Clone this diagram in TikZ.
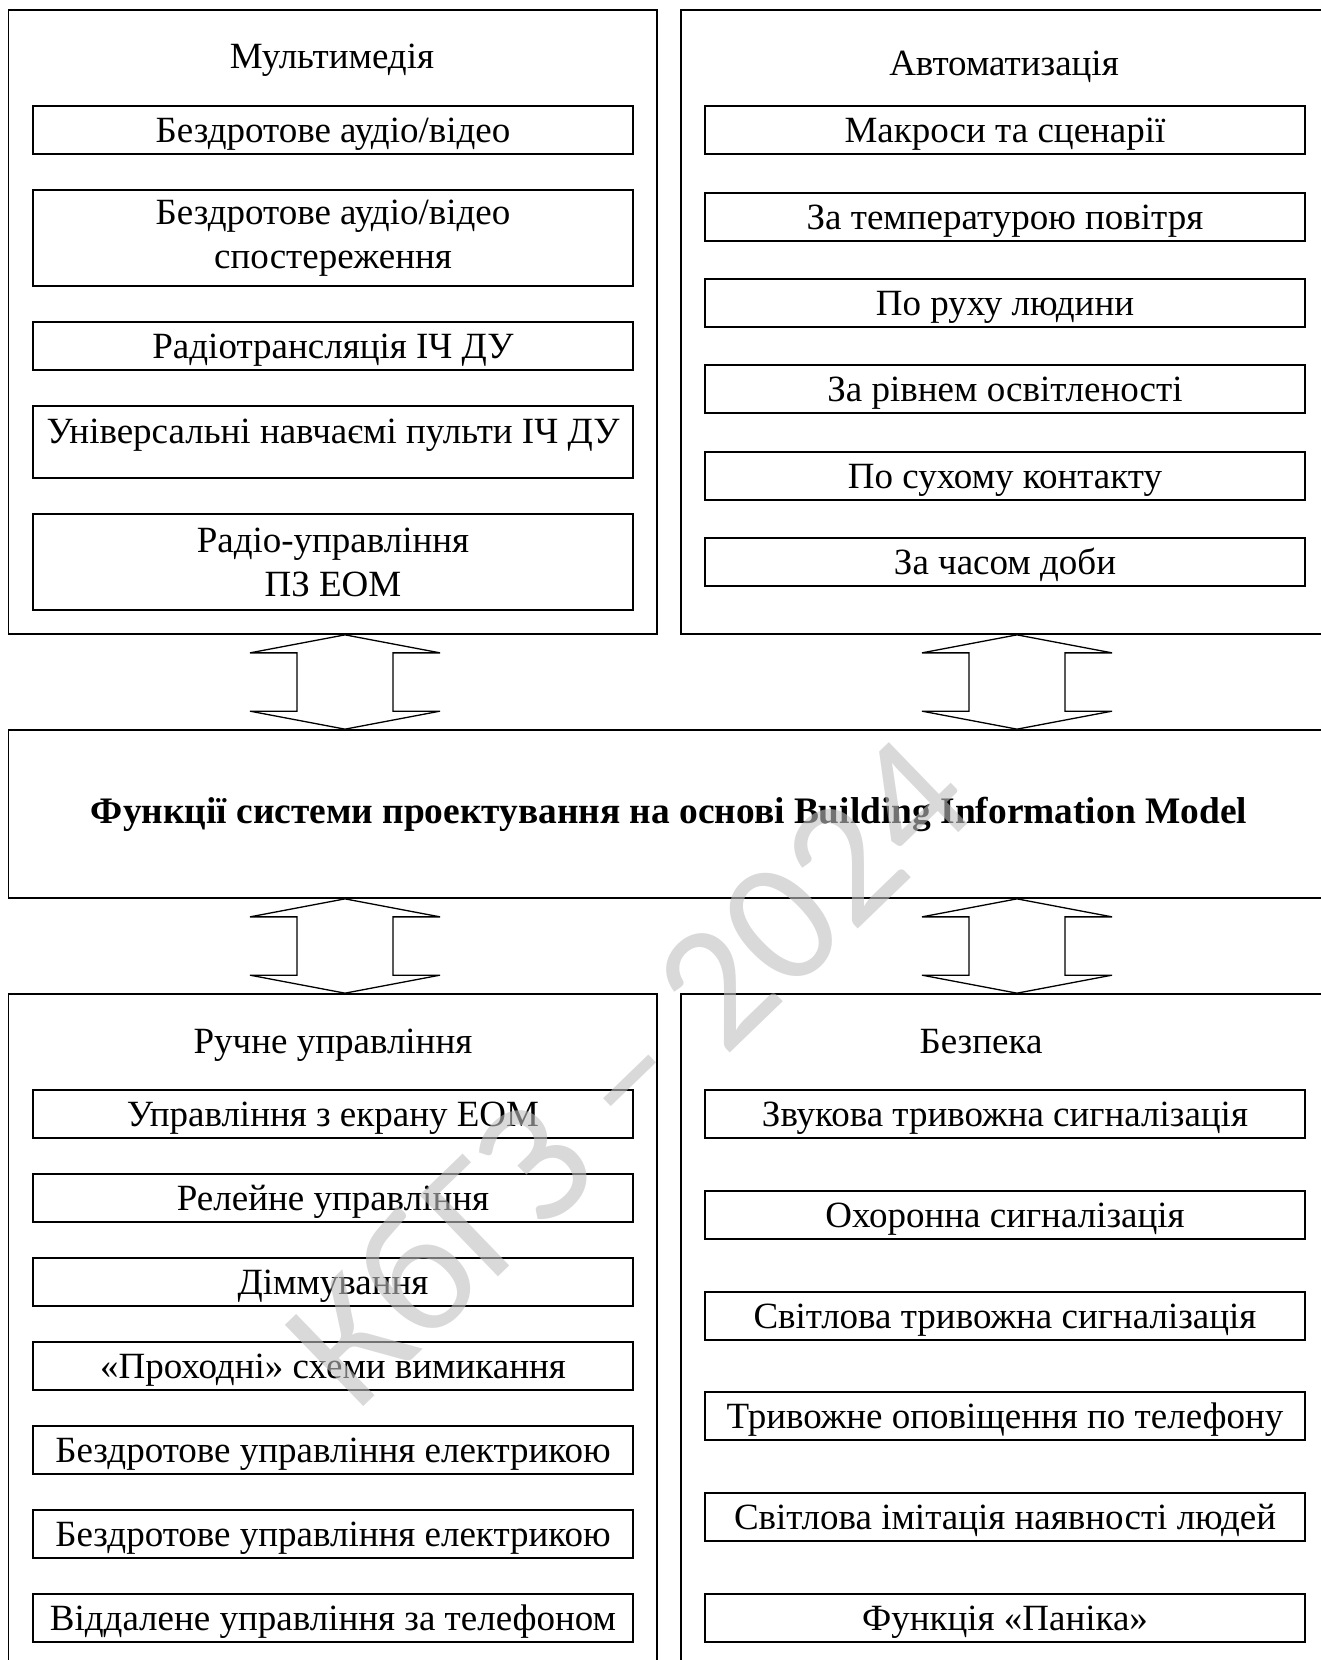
\documentclass[tikz,border=0pt]{standalone}
\usepackage{fontspec}
\setmainfont{Liberation Serif}
\newfontfamily\wmfont{Carlito}
\usetikzlibrary{calc}
\newcommand\dgfont{\fontsize{37}{44}\selectfont}
\begin{document}
\begin{tikzpicture}[x=1pt,y=-1pt,
  outerbox/.style={draw, line width=1.7pt, minimum width=648.5pt, inner sep=0pt},
  itembox/.style={draw, line width=1.8pt, minimum width=600pt, inner sep=0pt,
     text height=36pt, text depth=12pt, font=\dgfont},
  multibox/.style={draw, line width=1.8pt, minimum width=600pt, inner sep=0pt,
     minimum height=96pt, align=center, font=\dgfont},
  title/.style={anchor=base, inner sep=0pt, font=\dgfont},
  blockarrow/.style={draw, line width=1.3pt, fill=white, line join=miter},
  wm/.style={font=\wmfont\fontsize{176}{176}\selectfont, text=black!25, text opacity=0.6, rotate=44, inner sep=0pt}]
\useasboundingbox (0,0) rectangle (1320,1660);

% outer frames
\node[outerbox, minimum height=624pt] (mm) at (332.75,322) {};
\node[outerbox, minimum height=624pt] (au) at (1005.25,322) {};
\node[draw, line width=1.7pt, minimum width=1321pt, minimum height=168pt, inner sep=0pt,
      font=\fontsize{37.4}{44}\selectfont\bfseries] (bim) at (669,814)
      {Функції системи проектування на основі Building Information Model};
\node[outerbox, minimum height=686pt] (ru) at (332.75,1337) {};
\node[outerbox, minimum height=686pt] (bz) at (1005.25,1337) {};

% titles
\node[title] (mmt) at (332,68) {Мультимедія};
\node[title] (aut) at (1004,75) {Автоматизація};
\node[title] (rut) at (333,1053) {Ручне управління};
\node[title] (bzt) at (981,1053) {Безпека};

% Multimedia
\node[itembox] (m1) at (333,130) {Бездротове аудіо/відео};
\node[multibox] (m2) at (333,238) {Бездротове аудіо/відео\\спостереження};
\node[itembox] (m3) at (333,346) {Радіотрансляція ІЧ ДУ};
\node[itembox, text height=37pt, text depth=35pt] (m4) at (333,442) {Універсальні навчаємі пульти ІЧ ДУ};
\node[multibox] (m5) at (333,562) {Радіо-управління\\ПЗ ЕОМ};

% Automation
\node[itembox] (a1) at (1005,130) {Макроси та сценарії};
\node[itembox] (a2) at (1005,217) {За температурою повітря};
\node[itembox] (a3) at (1005,303) {По руху людини};
\node[itembox] (a4) at (1005,389) {За рівнем освітленості};
\node[itembox] (a5) at (1005,476) {По сухому контакту};
\node[itembox] (a6) at (1005,562) {За часом доби};

% Manual control
\node[itembox] (r1) at (333,1114) {Управління з екрану ЕОМ};
\node[itembox] (r2) at (333,1198) {Релейне управління};
\node[itembox] (r3) at (333,1282) {Діммування};
\node[itembox] (r4) at (333,1366) {«Проходні» схеми вимикання};
\node[itembox] (r5) at (333,1450) {Бездротове управління електрикою};
\node[itembox] (r6) at (333,1534) {Бездротове управління електрикою};
\node[itembox] (r7) at (333,1618) {Віддалене управління за телефоном};

% Security
\node[itembox] (b1) at (1005,1114) {Звукова тривожна сигналізація};
\node[itembox] (b2) at (1005,1215) {Охоронна сигналізація};
\node[itembox] (b3) at (1005,1316) {Світлова тривожна сигналізація};
\node[itembox] (b4) at (1005,1416) {Тривожне оповіщення по телефону};
\node[itembox] (b5) at (1005,1517) {Світлова імітація наявності людей};
\node[itembox] (b6) at (1005,1618) {Функція «Паніка»};

% double block arrows
\coordinate (xl) at (345,0);
\coordinate (xr) at (1017,0);
\coordinate (t1) at (mm.south -| xl);
\coordinate (e1) at (bim.north -| xl);
\coordinate (t2) at (au.south -| xr);
\coordinate (e2) at (bim.north -| xr);
\coordinate (t3) at (bim.south -| xl);
\coordinate (e3) at (ru.north -| xl);
\coordinate (t4) at (bim.south -| xr);
\coordinate (e4) at (bz.north -| xr);
\foreach \T/\B in {t1/e1,t2/e2,t3/e3,t4/e4}{
  \draw[blockarrow] (\T) -- ++(95,18) -- ++(-47,0) -- ($(\B)+(48,-18)$) -- ++(47,0)
     -- (\B) -- ++(-95,-18) -- ++(47,0) -- ($(\T)+(-48,18)$) -- ++(-47,0) -- cycle;
}

% watermark
\node[wm] (wmark) at (627,1070) {КбГЗ – 2024};
\end{tikzpicture}
\end{document}
